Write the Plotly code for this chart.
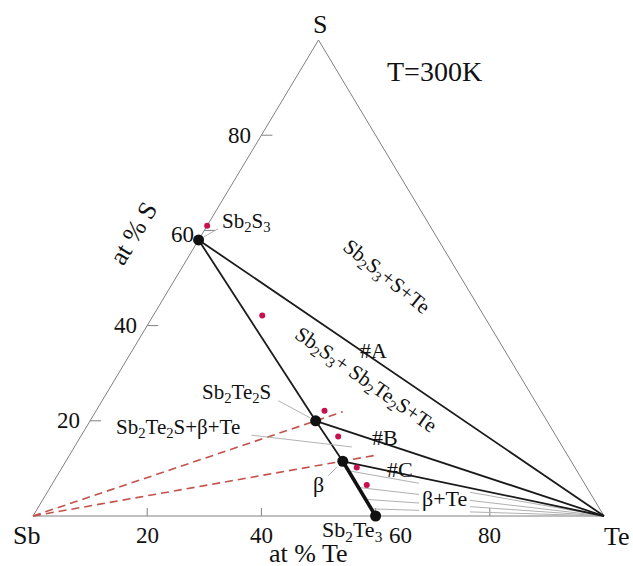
import plotly.graph_objects as go

# ---------------- data (compositions in at.%) ----------------
corner_names = ["Sb", "Te", "S"]
corner_te = [0, 100, 0]
corner_s = [0, 0, 100]

phase_names = ["Sb2S3", "Sb2Te2S", "beta", "Sb2Te3"]
phase_te = [0, 39.5, 48.5, 60]
phase_s = [58, 20, 11.5, 0]

# thin black tie lines (from phase -> to phase / corner)
tie_from = ["Sb2S3", "Sb2S3", "Sb2Te2S", "beta", "Sb2Te2S"]
tie_to = ["Te", "Sb2Te2S", "Te", "Te", "beta"]
# thick black boundary
thick_from = ["beta"]
thick_to = ["Sb2Te3"]

# measured sample compositions (red dots)
sample_te = [0, 19.1, 40.0, 45.1, 51.6, 55.2]
sample_s = [61, 42.1, 22.1, 16.7, 10.2, 6.5]

# red dashed rays from Sb corner
dash_end_te = [43.3, 53.8]
dash_end_s = [21.9, 12.8]

# grey tie lines of the beta+Te field (start compositions, end at Te)
twophase_te = [50.5, 54.0, 56.5, 58.5]
twophase_s = [9.5, 6.0, 3.5, 1.5]

tick_vals = [20, 40, 60, 80]
tick_text = ["20", "40", "60", "80"]

# ---------------- geometry helpers ----------------
W, H = 633, 566
X0, SX = 33.0, 5.71     # pixel of X=0 and px per unit
Y0, SY = 516.0, 4.76    # pixel of Y=0 and px per unit


def tern(te, s):
    """composition -> cartesian (x, y) of the drawing"""
    return te + s / 2.0, s


def P(xp, yp):
    """pixel -> data coordinates (used only for text placement)"""
    return (xp - X0) / SX, (Y0 - yp) / SY


pos = {n: tern(t, s) for n, t, s in zip(phase_names, phase_te, phase_s)}
for n, t, s in zip(corner_names, corner_te, corner_s):
    pos[n] = tern(t, s)

FONT = "Liberation Serif, Times New Roman, serif"
fig = go.Figure()

# triangle
cx = [tern(t, s)[0] for t, s in zip(corner_te, corner_s)]
cy = [tern(t, s)[1] for t, s in zip(corner_te, corner_s)]
fig.add_trace(go.Scatter(x=cx + [cx[0]], y=cy + [cy[0]], mode="lines",
                         line=dict(color="#808080", width=1), hoverinfo="skip"))

# axis ticks: bottom (at% Te) and left (at% S)
tx, ty = [], []
for v in tick_vals:
    tx += [v, v, None]
    ty += [0, 8 / SY, None]
    ex, ey = tern(0, v)
    tx += [ex, ex + 11 / SX, None]
    ty += [ey, ey, None]
fig.add_trace(go.Scatter(x=tx, y=ty, mode="lines",
                         line=dict(color="#808080", width=1), hoverinfo="skip"))

# grey tie lines of beta+Te field, interrupted under the label
gx0, gx1 = P(419, 0)[0], P(470, 0)[0]
gx, gy = [], []
tex, tey = pos["Te"]
for t, s in zip(twophase_te, twophase_s):
    sx, sy = tern(t, s)
    t1 = (gx0 - sx) / (tex - sx)
    t2 = (gx1 - sx) / (tex - sx)
    gx += [sx, sx + t1 * (tex - sx), None, sx + t2 * (tex - sx), tex, None]
    gy += [sy, sy + t1 * (tey - sy), None, sy + t2 * (tey - sy), tey, None]
fig.add_trace(go.Scatter(x=gx, y=gy, mode="lines",
                         line=dict(color="#b0b0b0", width=1), hoverinfo="skip"))

# red dashed rays
sbx, sby = pos["Sb"]
for t, s in zip(dash_end_te, dash_end_s):
    ex, ey = tern(t, s)
    fig.add_trace(go.Scatter(x=[sbx, ex], y=[sby, ey], mode="lines",
                             line=dict(color="#c4504a", width=1.6, dash="8px,5px"),
                             hoverinfo="skip"))

# black tie lines
for a, b in zip(tie_from, tie_to):
    fig.add_trace(go.Scatter(x=[pos[a][0], pos[b][0]], y=[pos[a][1], pos[b][1]],
                             mode="lines", line=dict(color="#1a1a1a", width=1.8),
                             hoverinfo="skip"))
for a, b in zip(thick_from, thick_to):
    fig.add_trace(go.Scatter(x=[pos[a][0], pos[b][0]], y=[pos[a][1], pos[b][1]],
                             mode="lines", line=dict(color="#111111", width=3.6),
                             hoverinfo="skip"))

# phases
fig.add_trace(go.Scatter(x=[tern(t, s)[0] for t, s in zip(phase_te, phase_s)],
                         y=[tern(t, s)[1] for t, s in zip(phase_te, phase_s)],
                         mode="markers", marker=dict(color="#111111", size=11),
                         hoverinfo="skip"))
# samples
fig.add_trace(go.Scatter(x=[tern(t, s)[0] for t, s in zip(sample_te, sample_s)],
                         y=[tern(t, s)[1] for t, s in zip(sample_te, sample_s)],
                         mode="markers", marker=dict(color="#c8104f", size=6),
                         hoverinfo="skip"))

ann = []


def text(t, xp, yp, size, angle=0, **kw):
    x, y = P(xp, yp)
    d = dict(text=t, x=x, y=y, xref="x", yref="y", showarrow=False,
             textangle=angle, font=dict(family=FONT, size=size, color="#111111"),
             xanchor="center", yanchor="middle")
    d.update(kw)
    ann.append(d)


def leader(hx, hy, ax, ay, standoff=0):
    ann.append(dict(text="", x=hx, y=hy, xref="x", yref="y", showarrow=True,
                    arrowhead=0, arrowwidth=0.9, arrowcolor="#aaaaaa",
                    ax=ax, ay=ay, standoff=standoff))


# tick labels
for v, lab in zip(tick_vals, tick_text):
    ann.append(dict(text=lab, x=v, y=P(0, 535)[1], xref="x", yref="y", showarrow=False,
                    font=dict(family=FONT, size=23, color="#111111"),
                    xanchor="center", yanchor="middle",
                    xshift=25 if v == 60 else 0))
    ex, ey = tern(0, v)
    ann.append(dict(text=lab, x=ex, y=ey, xref="x", yref="y", showarrow=False,
                    font=dict(family=FONT, size=23, color="#111111"),
                    xanchor="right", yanchor="middle", xshift=-8,
                    yshift=-4 if v == 60 else 0))

text("S", 320, 24, 26)
text("Sb", 26, 535, 26)
text("Te", 617, 536, 26)
text("T=300K", 434, 71, 28)
text("at % S", 133, 233, 26, -59)
text("at % Te", 308, 553, 26)
text("Sb<sub>2</sub>S<sub>3</sub>", 246, 222, 21)
text("Sb<sub>2</sub>S<sub>3</sub>+S+Te", 386, 277, 21, 39)
text("Sb<sub>2</sub>S<sub>3</sub>+ Sb<sub>2</sub>Te<sub>2</sub>S+Te", 365, 380, 21, 35)
text("#A", 373, 350, 22)
text("#B", 385, 437, 22)
text("#C", 400, 469, 22)
text("β+Te", 444, 498, 22)
text("β", 318, 484, 22)
text("Sb<sub>2</sub>Te<sub>2</sub>S", 236, 393, 21)
text("Sb<sub>2</sub>Te<sub>2</sub>S+β+Te", 178, 428, 21)
text("Sb<sub>2</sub>Te<sub>3</sub>", 352, 531, 22)

# label leaders
leader(*pos["Sb2S3"], 21, -12, standoff=6)
leader(*pos["Sb2Te2S"], -39, -21, standoff=6)
hx, hy = tern(48.6, 14.5)
leader(hx, hy, -102, -12)
leader(*pos["beta"], -16, 16, standoff=8)

xr = [P(0, 0)[0], P(W, 0)[0]]
yr = [P(0, H)[1], P(0, 0)[1]]
fig.update_layout(
    width=W, height=H, autosize=False,
    margin=dict(l=0, r=0, t=0, b=0, pad=0),
    paper_bgcolor="white", plot_bgcolor="white",
    showlegend=False,
    xaxis=dict(range=xr, visible=False, fixedrange=True),
    yaxis=dict(range=yr, visible=False, fixedrange=True),
    annotations=ann,
)
fig.write_html("out.html")
